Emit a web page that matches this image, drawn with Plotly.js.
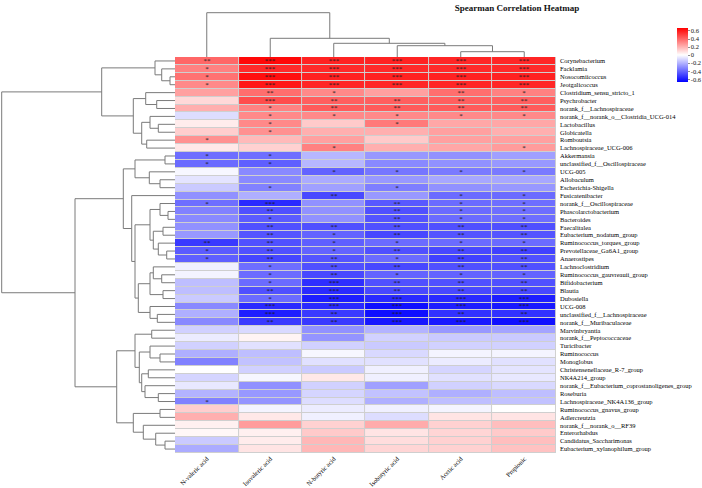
<!DOCTYPE html>
<html>
<head>
<meta charset="utf-8">
<script src="https://cdn.plot.ly/plotly-3.0.1.min.js"></script>
<style>
  html, body { margin: 0; padding: 0; background: #fff; }
  #chart { width: 702px; height: 488px; }
</style>
</head>
<body>
<div id="chart"></div>
<script>
// Short-chain fatty acids (columns, in dendrogram order)
const acids = ["N-valeric acid", "Isovaleric acid", "N-butyric acid", "Isobutyric acid", "Acetic acid", "Propionic"];

// Genera (rows, in dendrogram order, top to bottom)
const genera = [
  "Corynebacterium", "Facklamia", "Nosocomiicoccus", "Jeotgalicoccus", "Clostridium_sensu_stricto_1",
  "Psychrobacter", "norank_f__Lachnospiraceae", "norank_f__norank_o__Clostridia_UCG-014", "Lactobacillus", "Globicatella",
  "Romboutsia", "Lachnospiraceae_UCG-006", "Akkermansia", "unclassified_f__Oscillospiraceae", "UCG-005",
  "Allobaculum", "Escherichia-Shigella", "Fusicatenibacter", "norank_f__Oscillospiraceae", "Phascolarctobacterium",
  "Bacteroides", "Faecalitalea", "Eubacterium_nodatum_group", "Ruminococcus_torques_group", "Prevotellaceae_Ga6A1_group",
  "Anaerostipes", "Lachnoclostridium", "Ruminococcus_gauvreauii_group", "Bifidobacterium", "Blautia",
  "Dubosiella", "UCG-008", "unclassified_f__Lachnospiraceae", "norank_f__Muribaculaceae", "Marvinbryantia",
  "norank_f__Peptococcaceae", "Turicibacter", "Ruminococcus", "Monoglobus", "Christensenellaceae_R-7_group",
  "NK4A214_group", "norank_f__Eubacterium_coprostanoligenes_group", "Roseburia", "Lachnospiraceae_NK4A136_group", "Ruminococcus_gnavus_group",
  "Adlercreutzia", "norank_f__norank_o__RF39", "Enterorhabdus", "Candidatus_Saccharimonas", "Eubacterium_xylanophilum_group"
];

// Spearman rho of each genus against each acid
const nValeric = [0.40,0.33,0.37,0.31,0.25,0.10,0.21,-0.09,0.05,0.13, 0.29,0.06,-0.38,-0.39,-0.02,-0.07,-0.14,-0.29,-0.38,-0.33,
  -0.31,-0.29,-0.27,-0.52,-0.43,-0.42,-0.04,-0.03,-0.17,-0.17, -0.14,-0.31,-0.21,-0.31,-0.12,-0.05,-0.12,-0.21,-0.33,0.00,
  -0.11,-0.06,-0.20,-0.33,0.13,0.21,0.04,0.02,-0.14,-0.22];
const isovaleric = [0.65,0.56,0.63,0.61,0.38,0.47,0.33,0.31,0.31,0.29, 0.18,0.12,-0.38,-0.42,-0.31,-0.31,-0.33,-0.21,-0.56,-0.46,
  -0.43,-0.46,-0.45,-0.46,-0.46,-0.49,-0.38,-0.39,-0.39,-0.46, -0.39,-0.56,-0.59,-0.52,-0.10,0.03,-0.08,-0.17,-0.16,-0.12,
  -0.02,-0.29,-0.27,-0.28,-0.03,0.06,0.26,0.04,0.05,0.07];
const nButyric = [0.58,0.56,0.58,0.57,0.31,0.42,0.43,0.31,0.14,0.21, 0.25,0.33,-0.19,-0.19,-0.41,-0.22,-0.25,-0.48,-0.29,-0.29,
  -0.29,-0.46,-0.41,-0.42,-0.41,-0.45,-0.46,-0.48,-0.55,-0.56, -0.59,-0.56,-0.52,-0.52,-0.29,-0.28,-0.12,-0.02,-0.08,-0.14,
  0.06,-0.12,-0.11,-0.09,-0.05,-0.04,0.12,0.14,0.19,0.19];
const isobutyric = [0.58,0.56,0.58,0.57,0.25,0.42,0.43,0.31,0.35,0.21, 0.14,0.21,-0.27,-0.31,-0.36,-0.27,-0.34,-0.27,-0.44,-0.46,
  -0.45,-0.46,-0.48,-0.39,-0.46,-0.39,-0.48,-0.41,-0.46,-0.48, -0.56,-0.63,-0.63,-0.61,-0.20,-0.12,-0.14,-0.10,-0.08,-0.04,
  -0.04,-0.25,-0.16,-0.21,-0.04,-0.09,0.22,0.07,0.09,0.11];
const acetic = [0.57,0.56,0.58,0.57,0.38,0.42,0.43,0.31,0.23,0.25, 0.25,0.23,-0.29,-0.29,-0.35,-0.23,-0.29,-0.39,-0.39,-0.39,
  -0.39,-0.46,-0.45,-0.39,-0.48,-0.50,-0.46,-0.41,-0.46,-0.48, -0.56,-0.59,-0.54,-0.61,-0.27,-0.14,-0.12,-0.03,-0.05,-0.11,
  -0.08,-0.12,-0.21,-0.17,-0.03,0.07,0.12,0.11,0.12,0.12];
const propionic = [0.57,0.56,0.58,0.57,0.33,0.42,0.43,0.31,0.23,0.21, 0.25,0.26,-0.25,-0.27,-0.35,-0.23,-0.27,-0.39,-0.38,-0.38,
  -0.38,-0.46,-0.45,-0.39,-0.50,-0.46,-0.46,-0.41,-0.46,-0.48, -0.59,-0.61,-0.54,-0.63,-0.24,-0.14,-0.12,-0.03,-0.08,-0.07,
  -0.06,-0.10,-0.17,-0.16,0.00,0.07,0.17,0.14,0.17,0.16];

// Significance level per cell (number of asterisks: 1 p<0.05, 2 p<0.01, 3 p<0.001)
const nValericStars = [2,1,1,1,0,0,0,0,0,0, 1,0,1,1,0,0,0,0,1,0, 0,0,0,2,1,1,0,0,0,0, 0,0,0,0,0,0,0,0,0,0, 0,0,0,1,0,0,0,0,0,0];
const isovalericStars = [3,3,3,3,2,3,1,1,1,1, 0,0,1,1,0,0,1,0,3,2, 1,2,2,2,2,2,1,1,1,2, 1,3,3,2,0,0,0,0,0,0, 0,0,0,0,0,0,0,0,0,0];
const nButyricStars = [3,3,3,3,1,2,2,1,0,0, 0,1,0,0,1,0,0,2,0,0, 0,2,1,1,1,2,2,2,3,3, 3,3,2,2,0,0,0,0,0,0, 0,0,0,0,0,0,0,0,0,0];
const isobutyricStars = [3,3,3,3,0,2,2,1,1,0, 0,0,0,0,1,0,1,0,2,2, 2,2,2,1,2,1,2,1,2,2, 3,3,3,3,0,0,0,0,0,0, 0,0,0,0,0,0,0,0,0,0];
const aceticStars = [3,3,3,3,2,2,2,1,0,0, 0,0,0,0,1,0,0,1,1,1, 1,2,2,1,2,2,2,1,2,2, 3,3,2,3,0,0,0,0,0,0, 0,0,0,0,0,0,0,0,0,0];
const propionicStars = [3,3,3,3,1,2,2,1,0,0, 0,1,0,0,1,0,0,1,1,1, 1,2,2,1,2,2,2,1,2,2, 3,3,2,3,0,0,0,0,0,0, 0,0,0,0,0,0,0,0,0,0];

// Row clustering (hclust-style merge list: negative = leaf number, positive = earlier merge)
const rowMerges = [
  [-3,-4],[-2,1],[-1,2],[-6,-7],[-5,4],[-9,-10],[-8,6],[-11,-12],[7,8],[5,9],
  [3,10],[-13,-14],[-16,-17],[-15,13],[12,14],[-20,-21],[-19,16],[-22,-23],[-25,-26],[-24,19],
  [18,20],[17,21],[-28,-29],[-27,23],[-30,-31],[24,25],[-33,-34],[-32,27],[26,28],[22,29],
  [-18,30],[15,31],[-35,-36],[-38,-39],[-37,34],[-40,-41],[-43,-44],[-42,37],[36,38],[35,39],
  [33,40],[-45,-46],[-49,-50],[-48,43],[-47,44],[42,45],[41,46],[32,47],[11,48]
];
const rowMergeHeights = [
  5,13.3,20,18.3,29.3,16.7,25,28.3,33.3,41.7,
  73.3,10,15,25.7,40,7,15,12,8.3,16.7,
  21.7,25,13.3,21.7,12,25,17.7,25,36.7,40,
  43.3,51.7,23.3,15,25,26.7,16.7,30,33.3,35.7,
  40,15,10,19.3,31.7,41.7,58.3,100,173.3
];

// Column clustering
const colMerges = [[-5,-6],[-4,1],[-3,2],[-2,3],[-1,4]];
const colMergeHeights = [5.3, 11.3, 13.7, 18.7, 44.3];

// Turn a merge list into elbow line coordinates (leaf position / merge height)
function dendrogram(merges, heights) {
  const nodePos = [], nodeH = [], pos = [], h = [];
  const info = c => c < 0 ? { p: -c - 1, h: 0 } : { p: nodePos[c - 1], h: nodeH[c - 1] };
  merges.forEach((m, k) => {
    const a = info(m[0]), b = info(m[1]), hk = heights[k];
    pos.push(a.p, a.p, b.p, b.p, null);
    h.push(a.h, hk, hk, b.h, null);
    nodePos.push((a.p + b.p) / 2);
    nodeH.push(hk);
  });
  return { pos, h };
}

const columns = [nValeric, isovaleric, nButyric, isobutyric, acetic, propionic];
const starCols = [nValericStars, isovalericStars, nButyricStars, isobutyricStars, aceticStars, propionicStars];
const rowIdx = genera.map((_, i) => i);
const colIdx = acids.map((_, j) => j);
const z = rowIdx.map(i => colIdx.map(j => columns[j][i]));
const stars = rowIdx.map(i => colIdx.map(j => "*".repeat(starCols[j][i])));

const serif = "'Liberation Serif', 'Times New Roman', serif";
const lineColor = "#7a7a7a";

const rowTree = dendrogram(rowMerges, rowMergeHeights);
const colTree = dendrogram(colMerges, colMergeHeights);

const heat = {
  type: "heatmap",
  x: colIdx, y: rowIdx, z: z,
  text: stars, texttemplate: "%{text}",
  textfont: { family: serif, size: 7, color: "#1a1a1a" },
  zmin: -0.67, zmax: 0.67,
  colorscale: [[0, "rgb(0,0,255)"], [0.5, "rgb(255,255,255)"], [1, "rgb(255,0,0)"]],
  xgap: 1, ygap: 1,
  hoverinfo: "skip",
  colorbar: {
    x: 0.9644, xanchor: "left", y: 0.887, yanchor: "middle",
    len: 54, lenmode: "pixels", thickness: 11, thicknessmode: "pixels",
    outlinewidth: 0, xpad: 0, ypad: 0,
    tickvals: [-0.6, -0.4, -0.2, 0, 0.2, 0.4, 0.6],
    ticktext: ["-0.6", "-0.4", "-0.2", "0", "0.2", "0.4", "0.6"],
    ticks: "outside", ticklen: 2, tickwidth: 0.6, tickcolor: "#444",
    tickfont: { family: serif, size: 6.5, color: "#111" }
  }
};

const rowDendro = {
  type: "scatter", mode: "lines", xaxis: "x2", yaxis: "y",
  x: rowTree.h, y: rowTree.pos,
  line: { color: lineColor, width: 1 }, hoverinfo: "skip", connectgaps: false
};
const colDendro = {
  type: "scatter", mode: "lines", xaxis: "x", yaxis: "y3",
  x: colTree.pos, y: colTree.h,
  line: { color: lineColor, width: 1 }, hoverinfo: "skip", connectgaps: false
};

const layout = {
  width: 702, height: 488,
  margin: { l: 0, r: 0, t: 0, b: 0, pad: 0 },
  paper_bgcolor: "#fff", plot_bgcolor: "rgba(0,0,0,0)",
  showlegend: false, hovermode: false,
  font: { family: serif, color: "#111" },
  title: {
    text: "Spearman Correlation Heatmap",
    x: 0.7365, xanchor: "center", y: 0.984, yanchor: "middle",
    font: { family: serif, size: 9, weight: "bold", color: "#111" }
  },
  xaxis: {
    domain: [0.2493, 0.792], range: [-0.5, acids.length - 0.5], anchor: "y",
    tickvals: colIdx, ticktext: acids, tickangle: -45, ticks: "",
    showgrid: false, zeroline: false, showline: false, fixedrange: true,
    tickfont: { family: serif, size: 6.5, color: "#000" }
  },
  yaxis: {
    domain: [0.0717, 0.8832], range: [genera.length - 0.5, -0.5], anchor: "x", side: "right",
    tickvals: rowIdx, ticktext: genera, ticks: "", ticklabelstandoff: 3,
    showgrid: false, zeroline: false, showline: false, fixedrange: true,
    tickfont: { family: serif, size: 6.5, color: "#000" }
  },
  xaxis2: { domain: [0, 0.2493], range: [175, 0], anchor: "y", visible: false, fixedrange: true },
  yaxis3: { domain: [0.8832, 1], range: [0, 57], anchor: "x", visible: false, fixedrange: true },
  shapes: [{
    type: "rect", layer: "below", xref: "x", yref: "y",
    x0: -0.5, x1: acids.length - 0.5, y0: -0.5, y1: genera.length - 0.5,
    fillcolor: "#cfcfcf", line: { width: 0 }
  }]
};

Plotly.newPlot("chart", [heat, rowDendro, colDendro], layout, { displayModeBar: false, staticPlot: true });
</script>
</body>
</html>
